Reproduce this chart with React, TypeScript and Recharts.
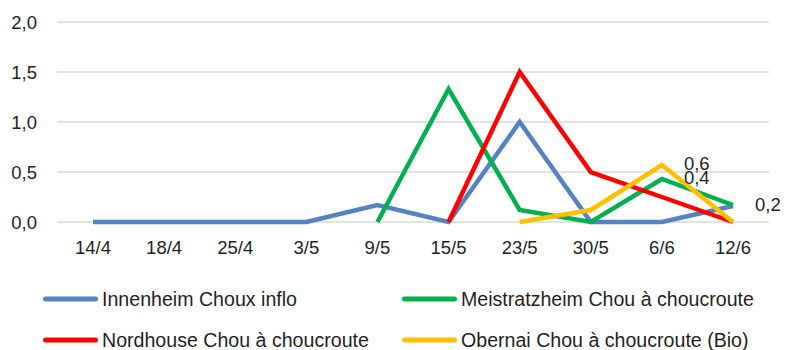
import React from "react";
import {
    LineChart,
    Line,
    XAxis,
    YAxis,
    CartesianGrid,
    Legend,
    LabelList,
} from "recharts";

const dates = ["14/4", "18/4", "25/4", "3/5", "9/5", "15/5", "23/5", "30/5", "6/6", "12/6"];
const innenheim = [0, 0, 0, 0, 0.17, 0, 1.0, 0, 0, 0.16];
const meistratzheim = [null, null, null, null, 0, 1.33, 0.12, 0, 0.43, 0.17];
const nordhouse = [null, null, null, null, null, 0, 1.5, 0.5, 0.25, 0];
const obernai = [null, null, null, null, null, null, 0, 0.12, 0.57, 0];
const yTicks = [0, 0.5, 1, 1.5, 2];

// which points carry a data label, by series
const innenheimLabels = [9];
const meistratzheimLabels = [8];
const obernaiLabels = [8];

const series = [
    { key: "innenheim", name: "Innenheim Choux inflo", color: "#5582C0", labels: innenheimLabels },
    { key: "meistratzheim", name: "Meistratzheim Chou à choucroute", color: "#00B050", labels: meistratzheimLabels },
    { key: "nordhouse", name: "Nordhouse Chou à choucroute", color: "#FF0000", labels: [] as number[] },
    { key: "obernai", name: "Obernai Chou à choucroute (Bio)", color: "#FFC000", labels: obernaiLabels },
];

const data = dates.map((d, i) => ({
    date: d,
    innenheim: innenheim[i],
    meistratzheim: meistratzheim[i],
    nordhouse: nordhouse[i],
    obernai: obernai[i],
}));

const FONT = "'Liberation Sans', Arial, sans-serif";
const TEXT = "#1f1f1f";
const SIZE = 18.5;

const fmt = (v: number) => v.toFixed(1).replace(".", ",");

const makeLabel = (labels: number[]) => (props: any) => {
    const { x, y, value, index } = props;
    if (!labels.includes(index) || value == null) return null;
    return (
        <text x={x + 22} y={y} dominantBaseline="middle" fontSize={SIZE} fontFamily={FONT} fill={TEXT}>
            {fmt(Number(value))}
        </text>
    );
};

const LegendBox = () => {
    const cols = [40, 399];
    return (
        <div style={{ position: "relative", width: 786, height: 62 }}>
            {series.map((s, i) => (
                <div
                    key={s.key}
                    style={{
                        position: "absolute",
                        left: cols[i % 2],
                        top: Math.floor(i / 2) * 41,
                        height: 22,
                        display: "flex",
                        alignItems: "center",
                        fontFamily: FONT,
                        fontSize: 19.6,
                        lineHeight: "22px",
                        color: TEXT,
                        whiteSpace: "nowrap",
                    }}
                >
                    <svg width={60} height={10} style={{ marginRight: 2, flexShrink: 0 }}>
                        <line x1={5.5} y1={5} x2={55.5} y2={5} stroke={s.color} strokeWidth={5} strokeLinecap="round" />
                    </svg>
                    {s.name}
                </div>
            ))}
        </div>
    );
};

const App = () => {
    return (
        <div style={{ position: "absolute", left: 0, top: 0, background: "#fff" }}>
            <LineChart
                width={786}
                height={350}
                data={data}
                margin={{ top: 22, right: 17, left: 0, bottom: 36 }}
            >
                <CartesianGrid vertical={false} stroke="#d9d9d9" strokeWidth={1.5} />
                <XAxis
                    dataKey="date"
                    axisLine={false}
                    tickLine={false}
                    height={30}
                    tickMargin={13}
                    padding={{ left: 36, right: 36 }}
                    tick={{ fill: TEXT, fontSize: SIZE, fontFamily: FONT }}
                />
                <YAxis
                    domain={[0, 2]}
                    ticks={yTicks}
                    width={57}
                    axisLine={false}
                    tickLine={false}
                    tickMargin={14}
                    tickFormatter={fmt}
                    tick={{ fill: TEXT, fontSize: SIZE, fontFamily: FONT }}
                />
                <Legend
                    verticalAlign="bottom"
                    content={() => <LegendBox />}
                    wrapperStyle={{ position: "absolute", left: 0, top: 288, width: 786, height: 62 }}
                />
                {series.map((s) => (
                    <Line
                        key={s.key}
                        type="linear"
                        dataKey={s.key}
                        name={s.name}
                        stroke={s.color}
                        strokeWidth={4.5}
                        dot={false}
                        activeDot={false}
                        isAnimationActive={false}
                    >
                        <LabelList dataKey={s.key} content={makeLabel(s.labels)} />
                    </Line>
                ))}
            </LineChart>
        </div>
    );
};

export default App;
